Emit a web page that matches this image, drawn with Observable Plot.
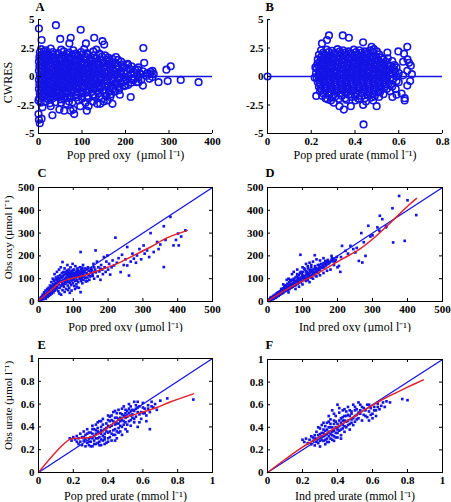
<!DOCTYPE html>
<html><head><meta charset="utf-8">
<script src="https://cdn.jsdelivr.net/npm/d3@7"></script>
<script src="https://cdn.jsdelivr.net/npm/@observablehq/plot@0.6"></script>
<style>
body{margin:0;background:#fff;}
#wrap{position:relative;width:451px;height:502px;overflow:hidden;background:#fff;}
.p{position:absolute;}
</style></head><body><div id="wrap"></div>
<script>
// ---------- tick values ----------
const cwresTicks = [-5, -2.5, 0, 2.5, 5];
const oxyTicksA = [0, 100, 200, 300, 400];
const urateTicksB = [0, 0.2, 0.4, 0.6, 0.8];
const oxyTicks = [0, 100, 200, 300, 400, 500];
const urateTicks = [0, 0.2, 0.4, 0.6, 0.8, 1];

// ---------- labels ----------
const letters = ["A", "B", "C", "D", "E", "F"];
const xTitles = ["Pop pred oxy  (µmol l⁻¹)", "Pop pred urate (mmol l⁻¹)", "Pop pred oxy (µmol l⁻¹)",
                 "Ind pred oxy (µmol l⁻¹)", "Pop pred urate (mmol l⁻¹)", "Ind pred urate (mmol l⁻¹)"];
const yTitles = ["CWRES", "", "Obs oxy (µmol l⁻¹)", "", "Obs urate (µmol l⁻¹)", ""];

// ---------- panel A: CWRES vs pop pred oxy ----------
const aPts = [
[1,4.2],[40,4.5],[97,4.1],[7,3.2],[50,3.3],[74,3.4],[71,2.9],[128,3.4],[147,3.1],[151,2.8],[109,2.9],[241,2.5],[243,1.2],
[304,0.9],[294,0.6],[276,-0.5],[297,-0.4],[327,-0.3],[368,-0.5],[262,0.5],[205,1.1],[240,-0.8],[212,-1.8],[187,-1.6],
[178,1.7],[166,1.2],[159,-2.1],[170,-2.4],[142,-2.4],[115,-2.6],[111,-3.0],[92,-2.1],[96,-2.6],[80,-2.9],[74,-3.0],
[59,-3.0],[48,-2.9],[32,-3.4],[28,-2.6],[9,-2.7],[0,-3.3],[1,-3.8],[3,-4.1],[7,-3.7],[0,-2.1],[67,-1.8],[82,-3.3],
[51,-2.0],[70,-2.2],[250,0.3],[255,-0.2],[258,0.4],[265,0.2],[230,0.8],[225,-0.5],[235,0.2],[218,-0.3],[222,0.6],
[200,-0.8],[195,0.9],[185,-1.2],[190,0.5],[175,-1.3],[165,-1.8],[150,-2.2],
[3,2.1],[12,2.2],[22,2.0],[33,2.15],[45,2.05],[58,2.2],[70,2.1],[85,2.0],[98,2.15],[112,2.05],[126,2.2],[140,2.0],
[6,2.4],[17,2.3],[28,2.45],[52,2.35],[80,2.3],[105,2.4],[133,2.35],
[6,1.9],[14,1.95],[23,1.85],[32,1.95],[42,1.9],[54,1.85],[66,1.95],[78,1.9],[90,1.85],[101,1.95],[114,1.9],[127,1.85],[140,1.95],[153,1.85],
[2,1.7],[10,1.75],[18,1.65],[27,1.8],[37,1.7],[48,1.65],[60,1.75],[72,1.7],[84,1.8],[95,1.65],[107,1.75],[120,1.7],[133,1.6],[146,1.75],[160,1.65],
[5,1.5],[13,1.55],[21,1.45],[31,1.55],[40,1.5],[50,1.45],[61,1.55],[72,1.5],[83,1.45],[95,1.55],[106,1.5],[118,1.45],[131,1.55],[143,1.5],[157,1.45],[170,1.55],[183,1.45],
[1,1.3],[8,1.35],[16,1.25],[25,1.4],[35,1.3],[44,1.2],[55,1.35],[66,1.3],[77,1.25],[89,1.4],[100,1.3],[112,1.2],[124,1.35],[137,1.3],[150,1.25],[163,1.35],[176,1.2],[190,1.3],
[5,1.1],[13,1.15],[23,1.05],[33,1.1],[43,1.15],[54,1.05],[65,1.1],[76,1.15],[87,1.05],[99,1.1],[111,1.15],[123,1.05],[135,1.1],[148,1.15],[161,1.05],[175,1.1],[190,1.05],[206,1.0],
[2,0.9],[9,0.95],[18,0.85],[28,0.9],[38,1.0],[49,0.85],[60,0.9],[71,0.95],[82,0.85],[93,0.9],[105,1.0],[117,0.85],[129,0.9],[141,0.95],[154,0.85],[168,0.9],[183,0.95],[198,0.8],[214,0.9],
[5,0.7],[14,0.75],[24,0.65],[34,0.7],[45,0.75],[55,0.65],[66,0.7],[78,0.75],[90,0.65],[102,0.7],[114,0.75],[126,0.65],[138,0.7],[151,0.75],[165,0.65],[179,0.7],[194,0.75],[210,0.65],[228,0.6],
[1,0.5],[10,0.55],[19,0.45],[29,0.5],[40,0.6],[50,0.45],[61,0.5],[73,0.55],[84,0.45],[96,0.5],[108,0.6],[120,0.45],[132,0.5],[145,0.55],[158,0.45],[172,0.5],[187,0.4],[203,0.5],[220,0.35],[240,0.45],
[6,0.3],[15,0.35],[24,0.25],[35,0.3],[46,0.35],[57,0.25],[68,0.3],[80,0.35],[92,0.25],[103,0.3],[115,0.35],[127,0.25],[140,0.3],[153,0.35],[166,0.25],[181,0.3],[196,0.35],[213,0.25],[232,0.3],[256,0.2],
[3,0.1],[12,0.15],[21,0.05],[31,0.1],[42,0.2],[53,0.05],[64,0.1],[76,0.15],[88,0.0],[99,0.1],[111,0.2],[123,0.05],[136,0.1],[149,0.15],[162,0.0],[176,0.1],[191,0.15],[207,0.0],[226,0.1],[248,0.05],
[5,-0.1],[15,-0.05],[25,-0.15],[36,-0.1],[47,-0.05],[58,-0.15],[69,-0.1],[81,-0.05],[93,-0.15],[104,-0.1],[116,-0.05],[129,-0.15],[142,-0.1],[155,-0.05],[168,-0.15],[183,-0.1],[198,-0.05],[215,-0.15],[230,-0.1],[262,-0.05],
[1,-0.3],[9,-0.25],[19,-0.35],[29,-0.3],[39,-0.2],[50,-0.35],[61,-0.3],[72,-0.25],[84,-0.4],[95,-0.3],[107,-0.2],[119,-0.35],[131,-0.3],[144,-0.25],[157,-0.4],[171,-0.3],[186,-0.2],[202,-0.35],[219,-0.25],[236,-0.3],
[5,-0.5],[14,-0.45],[24,-0.55],[34,-0.5],[45,-0.45],[56,-0.55],[67,-0.5],[78,-0.45],[90,-0.55],[101,-0.5],[113,-0.45],[125,-0.55],[138,-0.5],[151,-0.45],[165,-0.55],[180,-0.5],[196,-0.45],[213,-0.55],[230,-0.5],
[2,-0.7],[11,-0.65],[20,-0.75],[30,-0.7],[41,-0.6],[52,-0.75],[63,-0.7],[74,-0.65],[86,-0.8],[97,-0.7],[109,-0.6],[121,-0.75],[133,-0.7],[146,-0.65],[160,-0.8],[175,-0.7],[190,-0.6],[206,-0.75],
[6,-0.9],[15,-0.85],[25,-0.95],[35,-0.9],[46,-0.85],[57,-0.95],[68,-0.9],[80,-0.85],[91,-0.95],[103,-0.9],[115,-0.85],[127,-0.95],[140,-0.9],[153,-0.85],[167,-0.95],[182,-0.9],[197,-0.85],
[1,-1.1],[10,-1.05],[19,-1.15],[28,-1.1],[38,-1.0],[48,-1.2],[59,-1.1],[70,-1.05],[81,-1.2],[92,-1.1],[104,-1.0],[116,-1.15],[128,-1.1],[141,-1.05],[155,-1.2],[170,-1.1],[185,-1.0],
[5,-1.3],[14,-1.25],[24,-1.35],[33,-1.3],[43,-1.25],[53,-1.35],[64,-1.3],[75,-1.25],[87,-1.35],[98,-1.3],[110,-1.25],[122,-1.35],[135,-1.3],[148,-1.25],[162,-1.35],[177,-1.3],
[3,-1.5],[12,-1.45],[22,-1.55],[32,-1.5],[43,-1.4],[54,-1.6],[65,-1.5],[76,-1.45],[88,-1.55],[100,-1.5],[112,-1.4],[125,-1.6],[138,-1.5],[152,-1.45],[167,-1.55],
[6,-1.7],[16,-1.65],[27,-1.75],[38,-1.7],[49,-1.65],[61,-1.75],[73,-1.7],[86,-1.65],[99,-1.75],[112,-1.7],[126,-1.65],[140,-1.75],[156,-1.7],
[2,-1.9],[11,-1.85],[21,-1.95],[33,-1.9],[45,-1.8],[58,-1.95],[72,-1.9],[86,-1.85],[100,-1.95],[115,-1.9],[130,-1.8],[146,-1.95],
[5,-2.3],[15,-2.2],[26,-2.35],[39,-2.25],[52,-2.3],[64,-2.4],[78,-2.25],[108,-2.3],[125,-2.2],[135,-2.4]
];

// ---------- panel B: CWRES vs pop pred urate ----------
const bPts = [
[0,0],[0.281,3.6],[0.272,3.2],[0.344,3.6],[0.372,3.4],[0.437,3.0],[0.476,2.6],[0.486,2.4],[0.249,2.9],[0.639,2.6],
[0.598,2.2],[0.624,2.0],[0.548,2.1],[0.647,1.2],[0.655,0.95],[0.639,0.5],[0.652,-0.4],[0.639,-0.8],[0.586,-1.1],
[0.613,-1.5],[0.627,-1.9],[0.627,-2.1],[0.571,-1.8],[0.499,-2.6],[0.437,-2.5],[0.483,-2.1],[0.381,-2.6],[0.349,-2.9],
[0.329,-2.6],[0.303,-2.3],[0.274,-2.0],[0.223,-1.7],[0.439,-4.2],[0.216,-0.1],[0.219,0.8],[0.402,-2.1],
[0.58,1.0],[0.60,0.3],[0.62,0.1],[0.60,-0.5],[0.57,-0.9],[0.58,0.6],[0.64,1.5],[0.62,1.3],[0.66,0.2],[0.55,1.6],[0.56,-1.3],[0.59,-1.6],
[0.245,2.3],[0.27,2.35],[0.295,2.25],[0.32,2.4],[0.345,2.3],[0.37,2.2],[0.395,2.35],[0.42,2.3],[0.445,2.2],[0.47,2.3],
[0.255,2.1],[0.28,2.15],[0.305,2.05],[0.33,2.2],[0.355,2.1],[0.38,2.05],[0.405,2.15],[0.43,2.1],[0.455,2.05],[0.48,2.15],[0.50,2.2],
[0.235,1.9],[0.26,1.95],[0.285,1.85],[0.31,1.9],[0.335,2.0],[0.36,1.85],[0.385,1.9],[0.41,1.95],[0.435,1.85],[0.46,1.9],[0.485,1.8],[0.51,1.95],
[0.245,1.7],[0.27,1.75],[0.295,1.65],[0.32,1.7],[0.345,1.8],[0.37,1.65],[0.395,1.7],[0.42,1.75],[0.445,1.65],[0.47,1.7],[0.495,1.8],[0.52,1.65],
[0.23,1.5],[0.255,1.55],[0.28,1.45],[0.305,1.5],[0.33,1.6],[0.355,1.45],[0.38,1.5],[0.405,1.55],[0.43,1.45],[0.455,1.5],[0.48,1.6],[0.505,1.45],[0.53,1.5],
[0.24,1.3],[0.265,1.35],[0.29,1.25],[0.315,1.3],[0.34,1.4],[0.365,1.25],[0.39,1.3],[0.415,1.35],[0.44,1.25],[0.465,1.3],[0.49,1.4],[0.515,1.25],[0.54,1.3],[0.57,1.35],
[0.228,1.1],[0.25,1.15],[0.275,1.05],[0.3,1.1],[0.325,1.2],[0.35,1.05],[0.375,1.1],[0.4,1.15],[0.425,1.05],[0.45,1.1],[0.475,1.2],[0.5,1.05],[0.525,1.1],[0.55,1.0],
[0.235,0.9],[0.26,0.95],[0.285,0.85],[0.31,0.9],[0.335,1.0],[0.36,0.85],[0.385,0.9],[0.41,0.95],[0.435,0.85],[0.46,0.9],[0.485,1.0],[0.51,0.85],[0.535,0.9],[0.56,0.95],[0.59,0.8],
[0.225,0.7],[0.245,0.75],[0.27,0.65],[0.295,0.7],[0.32,0.8],[0.345,0.65],[0.37,0.7],[0.395,0.75],[0.42,0.65],[0.445,0.7],[0.47,0.8],[0.495,0.65],[0.52,0.7],[0.545,0.6],[0.57,0.75],
[0.235,0.5],[0.255,0.55],[0.28,0.45],[0.305,0.5],[0.33,0.6],[0.355,0.45],[0.38,0.5],[0.405,0.55],[0.43,0.45],[0.455,0.5],[0.48,0.6],[0.505,0.45],[0.53,0.5],[0.555,0.55],[0.585,0.4],
[0.222,0.3],[0.24,0.35],[0.265,0.25],[0.29,0.3],[0.315,0.4],[0.34,0.25],[0.365,0.3],[0.39,0.35],[0.415,0.25],[0.44,0.3],[0.465,0.4],[0.49,0.25],[0.515,0.3],[0.54,0.35],[0.565,0.2],
[0.232,0.1],[0.255,0.15],[0.28,0.05],[0.305,0.1],[0.33,0.2],[0.355,0.05],[0.38,0.1],[0.405,0.15],[0.43,0.05],[0.455,0.1],[0.48,0.2],[0.505,0.05],[0.53,0.1],[0.555,0.15],[0.59,0.0],
[0.225,-0.1],[0.248,-0.05],[0.272,-0.15],[0.297,-0.1],[0.322,0.0],[0.347,-0.15],[0.372,-0.1],[0.397,-0.05],[0.422,-0.15],[0.447,-0.1],[0.472,0.0],[0.497,-0.15],[0.522,-0.1],[0.547,-0.05],[0.575,-0.2],
[0.235,-0.3],[0.26,-0.25],[0.285,-0.35],[0.31,-0.3],[0.335,-0.2],[0.36,-0.35],[0.385,-0.3],[0.41,-0.25],[0.435,-0.35],[0.46,-0.3],[0.485,-0.2],[0.51,-0.35],[0.535,-0.3],[0.56,-0.25],[0.59,-0.4],
[0.23,-0.5],[0.255,-0.45],[0.28,-0.55],[0.305,-0.5],[0.33,-0.4],[0.355,-0.55],[0.38,-0.5],[0.405,-0.45],[0.43,-0.55],[0.455,-0.5],[0.48,-0.4],[0.505,-0.55],[0.53,-0.5],[0.555,-0.6],
[0.24,-0.7],[0.265,-0.65],[0.29,-0.75],[0.315,-0.7],[0.34,-0.6],[0.365,-0.75],[0.39,-0.7],[0.415,-0.65],[0.44,-0.75],[0.465,-0.7],[0.49,-0.6],[0.515,-0.75],[0.54,-0.7],[0.565,-0.65],
[0.235,-0.9],[0.26,-0.85],[0.285,-0.95],[0.31,-0.9],[0.335,-0.8],[0.36,-0.95],[0.385,-0.9],[0.41,-0.85],[0.435,-0.95],[0.46,-0.9],[0.485,-0.8],[0.51,-0.95],[0.535,-0.9],
[0.245,-1.1],[0.27,-1.05],[0.295,-1.15],[0.32,-1.1],[0.345,-1.0],[0.37,-1.15],[0.395,-1.1],[0.42,-1.05],[0.445,-1.15],[0.47,-1.1],[0.495,-1.0],[0.52,-1.15],[0.545,-1.1],
[0.24,-1.3],[0.265,-1.25],[0.29,-1.35],[0.315,-1.3],[0.34,-1.2],[0.365,-1.35],[0.39,-1.3],[0.415,-1.25],[0.44,-1.35],[0.465,-1.3],[0.49,-1.2],[0.515,-1.35],
[0.255,-1.5],[0.28,-1.45],[0.305,-1.55],[0.33,-1.5],[0.355,-1.4],[0.38,-1.55],[0.405,-1.5],[0.43,-1.45],[0.455,-1.55],[0.48,-1.5],[0.505,-1.4],[0.53,-1.55],
[0.25,-1.7],[0.28,-1.65],[0.31,-1.75],[0.34,-1.7],[0.37,-1.6],[0.4,-1.75],[0.43,-1.7],[0.46,-1.65],[0.49,-1.75],
[0.265,-1.9],[0.295,-1.85],[0.325,-1.95],[0.355,-1.9],[0.385,-1.8],[0.415,-1.95],[0.445,-1.9],[0.475,-1.85],[0.51,-1.8],
[0.29,-2.1],[0.36,-2.05],[0.42,-2.0],[0.45,-2.2]
];

// ---------- panel C: obs oxy vs pop pred oxy ----------
const cPts = [
[2,5],[4,12],[5,3],[7,18],[8,8],[10,22],[11,14],[12,30],[14,10],[15,25],[16,40],[18,18],[19,33],[20,48],[21,12],[22,28],[24,38],[25,55],[26,20],[27,44],[28,32],[29,60],[30,25],
[31,50],[32,40],[33,70],[34,30],[35,58],[36,45],[37,85],[38,35],[39,65],[40,52],[41,100],[42,75],[43,40],[44,90],[45,60],[46,120],[47,48],[48,80],[49,70],[50,105],[51,55],[52,95],[53,130],[54,65],[55,85],[56,110],[57,45],[58,75],[59,140],[60,98],[61,60],[62,115],[63,88],[64,150],[65,70],[66,105],[67,125],[68,80],[69,50],[70,95],
[71,110],[72,130],[73,65],[74,90],[75,145],[76,100],[77,78],[78,120],[79,55],[80,105],[81,135],[82,88],[83,160],[84,70],[85,112],[86,95],[87,140],[88,60],[89,125],[90,100],[91,82],[92,150],[93,115],[94,72],[95,135],[96,92],[97,108],[98,165],[99,80],[100,125],[101,100],[102,140],[103,68],[104,115],[105,90],[106,155],[107,105],[108,130],[109,75],[110,120],[111,95],[112,145],[113,110],[114,85],[115,135],[116,60],[117,125],[118,100],[119,150],[120,115],[121,41],[122,90],[123,140],[124,105],[125,128],[126,80],[127,118],[128,160],[129,95],[130,135],[132,110],[134,145],[136,88],[138,125],[140,105],[142,150],[144,118],[146,95],[148,135],[150,112],
[60,35],[75,42],[85,50],[95,48],[105,55],[110,62],[65,30],[90,38],
[82,110],[88,118],[94,125],[99,105],[103,122],[108,112],[113,128],[118,118],[123,125],[128,108],[84,128],[92,105],[97,128],[102,112],[112,132],[126,138],
[45,72],[48,95],[52,82],[55,100],[58,90],[62,102],[65,88],[68,110],[70,75],[73,118],[76,86],[79,128],[81,96],[84,122],[87,84],[89,108],[92,130],[95,115],[98,96],[100,138],[103,108],[106,124],[109,92],[111,138],[114,118],[117,108],[120,130],[123,98],[126,148],[129,120],[132,128],[135,102],[138,142],[141,120],[144,135],[147,110],[150,128],[153,138],[156,112],[159,130],[36,60],[40,70],[43,55],[47,66],[25,30],[30,38],[18,25],[10,16],[140,90],[160,150],
[152,145],[155,120],[158,165],[160,100],[163,140],[165,128],[168,175],[170,110],[172,150],[175,132],[178,95],[180,160],[183,140],[185,120],[188,195],[190,150],[193,130],[195,175],[198,202],[200,140],[203,165],[206,118],[210,150],[213,180],[217,158],[221,280],[164,224],[121,217],[69,173],
[225,170],[230,190],[236,129],[240,205],[245,160],[250,185],[255,239],[255,158],[260,114],[265,175],[270,210],[274,188],[280,170],[283,202],[290,230],[295,185],[302,246],[305,210],[312,224],[318,195],[322,300],[331,217],[341,261],[345,230],[350,250],[360,330],[360,151],[365,270],[379,371],[388,246],[395,270],[401,298],[403,246],[410,285],[422,312],[178,144]
];
const cFit = [[0,4],[35,48],[64,85],[93,100],[131,114],[178,139],[226,166],[274,202],[322,239],[369,279],[427,311]];

// ---------- panel D: obs oxy vs ind pred oxy ----------
const dPts = [
[3,4],[5,10],[6,2],[8,15],[9,6],[11,12],[12,20],[14,9],[15,18],[17,25],[18,12],[20,22],[21,30],[23,16],[24,28],[26,35],[27,20],[29,32],[30,40],[32,25],[33,38],[35,45],[36,30],[38,42],[39,55],[41,35],[42,48],[44,58],[45,38],[47,52],[48,65],[50,45],[51,58],[53,70],[54,48],[56,62],[57,78],[59,52],[60,68],[62,85],[63,55],[65,72],[66,90],[68,60],[69,78],[71,95],[72,65],[74,82],[75,100],[77,70],[78,88],[80,105],[81,72],[83,92],[84,110],[86,78],[87,96],[89,115],[90,82],[92,100],[93,125],[95,85],[96,105],[98,120],[99,90],[101,108],[102,130],[104,95],[105,112],[107,140],[108,98],[110,118],[111,132],[113,102],[114,122],[116,145],[117,106],[119,126],[120,138],[122,110],[123,130],[125,150],[126,115],[128,135],[130,120],[132,142],[134,125],[136,155],[138,130],[140,145],[142,132],[144,160],[146,138],[148,150],[150,140],[153,165],[156,148],[159,158],[162,150],[165,170],[168,160],[171,175],[174,165],[178,172],[182,180],[186,176],[190,188],[195,182],
[10,18],[16,14],[22,26],[28,36],[34,33],[40,46],[46,44],[52,62],[58,58],[64,76],[70,70],[76,90],[82,84],[88,104],[94,98],[100,115],[106,104],[112,128],[118,116],[124,138],[130,130],[136,146],[142,140],[148,160],[154,152],[160,168],[166,158],[172,182],[176,170],[184,190],[192,175],[198,195],[85,120],[95,130],[105,145],[115,155],[125,160],[65,95],[50,70],[115,95],[125,105],[135,115],[145,125],
[94,205],[135,203],[70,120],[60,100],[85,140],[110,165],[120,170],[100,150],[130,175],[150,180],[160,190],[140,185],[45,75],[55,95],[75,130],
[110,90],[130,100],[140,110],[150,115],[120,85],[160,125],[170,135],[100,75],[90,65],[80,55],[60,40],[180,140],[190,160],[200,150],
[376,463],[400,444],[425,379],[392,266],[359,259],[357,409],[321,376],[328,361],[338,325],[288,332],[294,285],[268,300],[280,200],[261,178],[271,171],[237,244],[213,244],[204,156],[208,130],[165,178],[183,200],[223,222],[251,215],[314,325],[210,195],[230,210],[245,230],[300,290],[320,310],[340,330],[255,235],[275,260]
];
const dFit = [[0,2],[70,66],[137,118],[213,186],[261,227],[309,285],[357,354],[404,423],[426,452]];

// ---------- panel E: obs urate vs pop pred urate ----------
const ePts = [
[0.18,0.30],[0.19,0.28],[0.20,0.31],[0.21,0.29],[0.22,0.27],[0.22,0.32],[0.23,0.25],[0.23,0.30],[0.24,0.34],[0.24,0.27],[0.25,0.24],[0.25,0.31],[0.26,0.36],[0.26,0.28],[0.27,0.23],[0.27,0.33],[0.28,0.26],[0.28,0.38],[0.29,0.30],[0.29,0.24],[0.30,0.35],[0.30,0.27],[0.31,0.41],[0.31,0.23],[0.32,0.32],[0.32,0.28],[0.33,0.37],[0.33,0.25],[0.34,0.44],[0.34,0.30],[0.35,0.27],[0.35,0.35],[0.36,0.40],[0.36,0.24],[0.37,0.32],[0.37,0.47],[0.38,0.29],[0.38,0.38],[0.39,0.43],[0.39,0.26],[0.40,0.35],[0.40,0.50],[0.41,0.31],[0.41,0.40],[0.42,0.46],[0.42,0.28],[0.43,0.37],[0.43,0.53],[0.44,0.33],[0.44,0.42],[0.45,0.48],[0.45,0.30],[0.46,0.39],[0.46,0.55],[0.47,0.36],[0.47,0.45],[0.48,0.51],[0.48,0.33],[0.49,0.42],[0.49,0.58],[0.50,0.38],[0.50,0.48],[0.51,0.54],[0.51,0.36],[0.52,0.45],[0.52,0.60],[0.53,0.41],[0.53,0.50],[0.54,0.55],[0.55,0.44],[0.55,0.62],[0.56,0.49],[0.57,0.53],[0.57,0.40],[0.58,0.58],[0.59,0.47],[0.60,0.52],[0.60,0.61],[0.61,0.56],[0.62,0.45],[0.63,0.59],[0.64,0.53],[0.65,0.62],[0.66,0.57],[0.67,0.60],[0.68,0.55],[0.70,0.63],[0.74,0.65],[0.89,0.64],[0.64,0.38],
[0.30,0.31],[0.31,0.34],[0.32,0.38],[0.33,0.30],[0.34,0.36],[0.35,0.31],[0.36,0.34],[0.37,0.28],[0.38,0.34],[0.39,0.39],[0.40,0.30],[0.41,0.36],[0.42,0.41],[0.43,0.33],[0.44,0.38],[0.45,0.43],[0.46,0.47],[0.47,0.41],[0.48,0.46],[0.49,0.50],[0.50,0.44],[0.51,0.49],[0.52,0.52],[0.53,0.46],[0.54,0.51],[0.56,0.56],[0.58,0.51],[0.47,0.52],[0.45,0.52],[0.50,0.55],[0.28,0.34],[0.26,0.31],[0.33,0.42],[0.35,0.45],[0.40,0.46],[0.42,0.50],[0.36,0.29],[0.38,0.25],[0.34,0.26],[0.30,0.23],[0.44,0.28],[0.48,0.40],[0.46,0.35],[0.55,0.47],[0.58,0.44],[0.62,0.50],[0.60,0.57],[0.57,0.62],[0.53,0.58],
[0.27,0.29],[0.29,0.27],[0.31,0.30],[0.32,0.25],[0.33,0.34],[0.34,0.39],[0.35,0.24],[0.36,0.37],[0.37,0.42],[0.38,0.31],[0.39,0.36],[0.40,0.27],[0.40,0.41],[0.41,0.45],[0.42,0.34],[0.43,0.45],[0.44,0.48],[0.45,0.36],[0.46,0.43],[0.47,0.48],[0.48,0.56],[0.49,0.45],[0.50,0.52],[0.51,0.42],[0.52,0.56],[0.53,0.54],[0.54,0.48],[0.55,0.54],[0.56,0.59],[0.57,0.57],[0.59,0.53],[0.61,0.52],[0.63,0.56],[0.65,0.58],[0.44,0.54],[0.41,0.49],[0.36,0.45],[0.31,0.38],[0.29,0.35]
];
const eFit = [[0,0],[0.18,0.29],[0.23,0.30],[0.30,0.31],[0.36,0.35],[0.42,0.42],[0.47,0.47],[0.53,0.50],[0.60,0.53],[0.68,0.57],[0.76,0.62],[0.89,0.69]];

// ---------- panel F: obs urate vs ind pred urate ----------
const fPts = [
[0.20,0.29],[0.21,0.27],[0.22,0.30],[0.23,0.26],[0.24,0.29],[0.25,0.32],[0.25,0.25],[0.26,0.28],[0.27,0.33],[0.27,0.24],[0.28,0.30],[0.28,0.36],[0.29,0.26],[0.29,0.40],[0.30,0.31],[0.30,0.23],[0.31,0.35],[0.31,0.42],[0.32,0.28],[0.32,0.38],[0.33,0.33],[0.33,0.25],[0.34,0.44],[0.34,0.30],[0.35,0.36],[0.35,0.27],[0.36,0.40],[0.36,0.47],[0.37,0.33],[0.37,0.29],[0.38,0.43],[0.38,0.37],[0.39,0.50],[0.39,0.31],[0.40,0.40],[0.40,0.35],[0.41,0.46],[0.41,0.53],[0.42,0.38],[0.42,0.33],[0.43,0.49],[0.43,0.42],[0.44,0.56],[0.44,0.36],[0.45,0.45],[0.45,0.40],[0.46,0.51],[0.46,0.58],[0.47,0.43],[0.47,0.38],[0.48,0.54],[0.48,0.47],[0.49,0.60],[0.49,0.42],[0.50,0.50],[0.50,0.45],[0.51,0.56],[0.52,0.48],[0.52,0.62],[0.53,0.52],[0.54,0.46],[0.54,0.58],[0.55,0.51],[0.56,0.55],[0.57,0.49],[0.57,0.60],[0.58,0.54],[0.59,0.57],[0.60,0.52],[0.61,0.58],[0.62,0.55],[0.63,0.61],[0.64,0.56],[0.65,0.59],[0.66,0.62],[0.67,0.58],[0.68,0.63],[0.70,0.62],[0.77,0.65],[0.80,0.64],[0.60,0.48],[0.62,0.50],[0.58,0.46],
[0.30,0.34],[0.32,0.32],[0.33,0.37],[0.35,0.32],[0.36,0.30],[0.37,0.36],[0.38,0.32],[0.39,0.35],[0.40,0.38],[0.41,0.41],[0.42,0.44],[0.43,0.39],[0.44,0.46],[0.45,0.50],[0.46,0.46],[0.47,0.50],[0.48,0.52],[0.50,0.55],[0.51,0.51],[0.53,0.55],[0.31,0.29],[0.29,0.33],[0.27,0.30],[0.34,0.34],[0.36,0.43],[0.40,0.31],[0.42,0.30],[0.44,0.41],[0.38,0.28],[0.34,0.27],[0.33,0.41],[0.39,0.45],[0.35,0.45],[0.43,0.55],[0.40,0.60],[0.37,0.55],
[0.26,0.31],[0.28,0.27],[0.30,0.28],[0.31,0.32],[0.32,0.35],[0.33,0.29],[0.34,0.38],[0.35,0.40],[0.36,0.34],[0.37,0.40],[0.38,0.46],[0.39,0.40],[0.40,0.43],[0.41,0.37],[0.42,0.48],[0.43,0.46],[0.44,0.50],[0.45,0.54],[0.46,0.42],[0.47,0.55],[0.48,0.44],[0.49,0.48],[0.50,0.58],[0.51,0.47],[0.52,0.53],[0.53,0.60],[0.55,0.57],[0.56,0.50],[0.58,0.60],[0.59,0.51],[0.61,0.55],[0.63,0.58],[0.35,0.50],[0.38,0.52],[0.41,0.57],[0.32,0.44],[0.30,0.39]
];
const fFit = [[0,0],[0.1,0.115],[0.2,0.225],[0.3,0.315],[0.4,0.405],[0.5,0.5],[0.6,0.595],[0.7,0.68],[0.8,0.755],[0.89,0.82]];

// ---------- drawing ----------
const BLUE = "#1414e6", RED = "#e0202a";
const FONT = "'Liberation Serif','Times New Roman',serif";
const fmt = d => String(d);

function panel(o) {
  const fw = o.w - o.ml - o.mr, fh = o.h - o.mt - o.mb;
  const [x0, x1] = o.xDomain, [y0, y1] = o.yDomain;
  const ty = (y1 - y0) * 3 / fh;   // tick length (3px) in y units
  const tx = (x1 - x0) * 3 / fw;   // tick length (3px) in x units
  const marks = [...o.marks];
  if (o.box) {
    marks.push(Plot.frame({stroke: "black", strokeWidth: 1}));
    marks.push(Plot.ruleX(o.xTicks, {x: d => d, y1: () => y1, y2: () => y1 - ty, stroke: "black"}));
    marks.push(Plot.ruleY(o.yTicks, {y: d => d, x1: () => x1, x2: () => x1 - tx, stroke: "black"}));
  } else {
    marks.push(Plot.ruleX([x0], {x: d => d, stroke: "black"}));
    marks.push(Plot.ruleY([y0], {y: d => d, stroke: "black"}));
  }
  marks.push(Plot.ruleX(o.xTicks, {x: d => d, y1: () => y0, y2: () => y0 + ty, stroke: "black"}));
  marks.push(Plot.ruleY(o.yTicks, {y: d => d, x1: () => x0, x2: () => x0 + tx, stroke: "black"}));
  marks.push(Plot.text(o.xTicks, {x: d => d, text: fmt, frameAnchor: "bottom", textAnchor: "middle", lineAnchor: "top", dy: 4, fontWeight: "bold", fontSize: 11}));
  marks.push(Plot.text(o.yTicks, {y: d => d, text: fmt, frameAnchor: "left", textAnchor: "end", dx: -4, fontWeight: "bold", fontSize: 11}));
  marks.push(Plot.text([o.letter], {text: d => d, frameAnchor: "top-left", textAnchor: "start", lineAnchor: "bottom", dx: o.ldx, dy: o.ldy, fontWeight: "bold", fontSize: 12.5}));
  marks.push(Plot.text([o.xTitle], {text: d => d, frameAnchor: "bottom", textAnchor: "middle", lineAnchor: "middle", dy: o.xdy, fontSize: 12}));
  if (o.yTitle) marks.push(Plot.text([o.yTitle], {text: d => d, frameAnchor: "left", textAnchor: "middle", rotate: -90, lineAnchor: "middle", dx: -30, dy: o.ydy, fontSize: o.yfs}));
  const svg = Plot.plot({
    width: o.w, height: o.h,
    marginLeft: o.ml, marginRight: o.mr, marginTop: o.mt, marginBottom: o.mb,
    x: {domain: o.xDomain, axis: null},
    y: {domain: o.yDomain, axis: null},
    style: {fontFamily: FONT, background: "white", color: "black", overflow: "visible"},
    marks
  });
  const div = document.createElement("div");
  div.className = "p";
  div.style.left = o.left + "px";
  div.style.top = o.top + "px";
  div.appendChild(svg);
  document.getElementById("wrap").appendChild(div);
}

const xy = {x: d => d[0], y: d => d[1]};
const rings = pts => Plot.dot(pts, {...xy, r: 3.3, stroke: BLUE, strokeWidth: 1.6, fill: "none"});
const specks = pts => Plot.dot(pts, {...xy, r: 1.5, symbol: "square", fill: BLUE, stroke: "none"});
const ident = dom => Plot.link([dom], {x1: d => d[0], y1: d => d[0], x2: d => d[1], y2: d => d[1], stroke: BLUE, strokeWidth: 1.3});
const fit = pts => Plot.line(pts, {...xy, stroke: RED, strokeWidth: 1.5, curve: "catmull-rom"});

panel({left: 0, top: 0, w: 225, h: 165, ml: 38, mr: 13, mt: 19, mb: 32,
  xDomain: [0, 400], yDomain: [-5, 5], xTicks: oxyTicksA, yTicks: cwresTicks, box: false,
  letter: letters[0], ldx: -3, ldy: -9, xTitle: xTitles[0], xdy: 22, yTitle: yTitles[0], ydy: 6, yfs: 12,
  marks: [rings(aPts), Plot.ruleY([0], {y: d => d, stroke: BLUE, strokeWidth: 1.3})]});

panel({left: 225, top: 0, w: 226, h: 165, ml: 42, mr: 9, mt: 19, mb: 32,
  xDomain: [0, 0.8], yDomain: [-5, 5], xTicks: urateTicksB, yTicks: cwresTicks, box: false,
  letter: letters[1], ldx: -2, ldy: -9, xTitle: xTitles[1], xdy: 22, yTitle: yTitles[1], ydy: 0, yfs: 12,
  marks: [rings(bPts), Plot.ruleY([0], {y: d => d, stroke: BLUE, strokeWidth: 1.3})]});

panel({left: 0, top: 165, w: 225, h: 167, ml: 38, mr: 13, mt: 22, mb: 31,
  xDomain: [0, 500], yDomain: [0, 500], xTicks: oxyTicks, yTicks: oxyTicks, box: true,
  letter: letters[2], ldx: -1, ldy: -11, xTitle: xTitles[2], xdy: 26, yTitle: yTitles[2], ydy: -7, yfs: 11,
  marks: [specks(cPts), ident([0, 500]), fit(cFit)]});

panel({left: 225, top: 165, w: 226, h: 167, ml: 42, mr: 9, mt: 22, mb: 31,
  xDomain: [0, 500], yDomain: [0, 500], xTicks: oxyTicks, yTicks: oxyTicks, box: true,
  letter: letters[3], ldx: -2, ldy: -11, xTitle: xTitles[3], xdy: 25.5, yTitle: yTitles[3], ydy: 0, yfs: 11,
  marks: [specks(dPts), ident([0, 500]), fit(dFit)]});

panel({left: 0, top: 332, w: 225, h: 170, ml: 38, mr: 13, mt: 26, mb: 30,
  xDomain: [0, 1], yDomain: [0, 1], xTicks: urateTicks, yTicks: urateTicks, box: true,
  letter: letters[4], ldx: -1, ldy: -10, xTitle: xTitles[4], xdy: 23.5, yTitle: yTitles[4], ydy: -10, yfs: 11,
  marks: [specks(ePts), ident([0, 1]), fit(eFit)]});

panel({left: 225, top: 332, w: 226, h: 170, ml: 42, mr: 9, mt: 27, mb: 30,
  xDomain: [0, 1], yDomain: [0, 1], xTicks: urateTicks, yTicks: urateTicks, box: true,
  letter: letters[5], ldx: -2, ldy: -10.5, xTitle: xTitles[5], xdy: 23.3, yTitle: yTitles[5], ydy: 0, yfs: 11,
  marks: [specks(fPts), ident([0, 1]), fit(fFit)]});
</script>
</body></html>
